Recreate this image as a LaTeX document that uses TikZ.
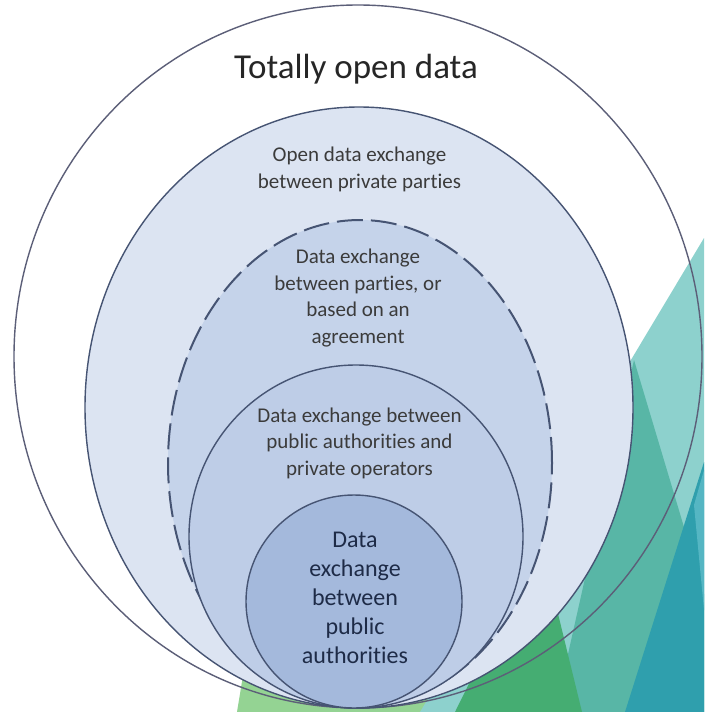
\documentclass[tikz,border=0pt]{standalone}
\usepackage{fontspec}
\setmainfont[Ligatures=NoCommon]{Carlito}
\usetikzlibrary{shapes.geometric, positioning}
\definecolor{ringline}{HTML}{465473}
\definecolor{outerline}{HTML}{5C5F78}
\definecolor{fillA}{HTML}{DCE4F2}
\definecolor{fillB}{HTML}{C5D3EA}
\definecolor{fillC}{HTML}{BECDE7}
\definecolor{fillD}{HTML}{A4B9DC}
\definecolor{bgLightGreen}{HTML}{94D393}
\definecolor{bgGreen}{HTML}{45AD72}
\definecolor{bgLightTeal}{HTML}{8DD1CD}
\definecolor{bgTeal}{HTML}{58B6A6}
\definecolor{bgBlueTeal}{HTML}{2F9FAD}
\definecolor{bgPaleBlue}{HTML}{55B6C3}
\definecolor{txtgrey}{HTML}{3B3B3B}
\definecolor{txtnavy}{HTML}{1E2B47}

\begin{document}
\begin{tikzpicture}[x=1pt, y=-1pt,
  ring/.style={ellipse, draw=ringline, line width=1.4pt, inner sep=0pt},
  dashring/.style={ring, line width=2pt, dash pattern=on 26pt off 8pt},
  smalltext/.style={align=center, text=txtgrey, anchor=base, font=\fontsize{21}{26.5}\selectfont},
  titletext/.style={text=black!85, anchor=base, font=\fontsize{35}{40}\selectfont},
  innertext/.style={align=center, text=txtnavy, anchor=base, font=\fontsize{24}{29}\selectfont}]
  \useasboundingbox (0,0) rectangle (704,712);
  \fill[white] (0,0) rectangle (704,712);
  % background shapes
  \fill[bgLightGreen] (237,712) -- (262,560) -- (480,712) -- cycle;
  \fill[bgLightTeal] (704,238) -- (420,712) -- (704,712) -- cycle;
  \fill[bgTeal] (634,360) -- (704,594) -- (704,712) -- (555,712) -- cycle;
  \fill[bgGreen] (455,712) -- (540,540) -- (582,712) -- cycle;
  \fill[bgBlueTeal] (704,462) -- (625,712) -- (704,712) -- cycle;
  \fill[bgPaleBlue] (704,470) -- (694,505) -- (704,610) -- cycle;
  % rings
  \node[ring, draw=outerline, minimum width=688pt, minimum height=703pt] (openring) at (358,356.5) {};
  \node[ring, fill=fillA, minimum width=548pt, minimum height=601pt] (privatering) at (359,407.5) {};
  \node[dashring, fill=fillB, minimum width=384pt, minimum height=486pt] (agreementring) at (360,463) {};
  \node[ring, fill=fillC, minimum width=334pt, minimum height=343pt] (operatorsring) at (356,536.5) {};
  \node[ring, fill=fillD, minimum width=216pt, minimum height=213pt] (publicring) at (354,601.5) {};
  % labels (base = last line)
  \node[titletext] (opentxt) at (356,78) {Totally open data};
  \node[smalltext] (privatetxt) at (359.5,188) {Open data exchange\\between private parties};
  \node[smalltext] (agreementtxt) at (358,343) {Data exchange\\between parties, or\\based on an\\agreement};
  \node[smalltext] (operatorstxt) at (359.5,475) {Data exchange between\\public authorities and\\private operators};
  \node[innertext] (publictxt) at (355,663) {Data\\exchange\\between\\public\\authorities};
\end{tikzpicture}
\end{document}
